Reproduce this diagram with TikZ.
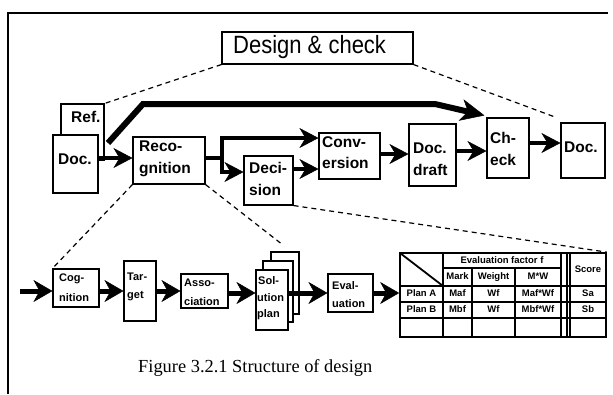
\documentclass[tikz,border=0pt]{standalone}
\usepackage{fontspec}
\setmainfont{Liberation Sans}
\newfontfamily\capfont{Liberation Serif}
\usetikzlibrary{arrows.meta,fit}
\begin{document}
\begin{tikzpicture}[x=1pt,y=-1pt,
  box/.style={draw,line width=1.1pt,fill=white,inner sep=0pt},
  lbl/.style={inner sep=0pt,anchor=base west,font=\fontsize{15.5}{16}\selectfont\bfseries},
  sml/.style={inner sep=0pt,anchor=base west,font=\fontsize{11}{11}\selectfont\bfseries},
  cell/.style={inner sep=0pt,text height=7pt,text depth=2pt,font=\fontsize{9.5}{9.5}\selectfont\bfseries},
  dashline/.style={line width=1.2pt,dash pattern=on 5pt off 4pt},
  flow/.style={line width=4.5pt,-{Stealth[length=19pt,width=20pt,inset=6pt,line width=0.5pt]}},
  lowflow/.style={line width=5pt,-{Stealth[length=19pt,width=22pt,inset=6pt,line width=0.5pt]}},
  bigflow/.style={line width=6pt,line join=miter,-{Stealth[length=24pt,width=22pt,inset=7pt,line width=0.5pt]}},
  rule/.style={line width=1.1pt},
]
\useasboundingbox (0,0) rectangle (613,394);

% outer frame
\draw[line width=1.2pt] (8,394) -- (8,13) -- (608,13);

% heights of the horizontal flows
\coordinate (L138) at (0,138);
\coordinate (L143) at (0,143);
\coordinate (L151) at (0,151);
\coordinate (L154) at (0,154);
\coordinate (L158) at (0,158);
\coordinate (L169) at (0,169);
\coordinate (L172) at (0,172);
\coordinate (L291) at (0,291);
\coordinate (L293) at (0,293);

% top process
\node[box,fit={(222,32)(413,64)}] (design) {};
\node[inner sep=0pt,anchor=base west,xscale=0.88,font=\fontsize{25}{25}\selectfont] (designtxt) at (233,53) {Design \& check};

\node[box,fit={(61,104)(104,160)}] (ref) {};
\node[lbl] (reftxt) at (71,122) {Ref.};
\node[box,fit={(53,135)(98,193)}] (doc) {};
\node[lbl] (doctxt) at (58,164) {Doc.};

\node[box,fit={(133,137)(205,184)}] (rec) {};
\node[lbl] (rec1) at (139,151) {Reco-};
\node[lbl] (rec2) at (139,173) {gnition};

\node[box,fit={(244,156)(293,205)}] (dec) {};
\node[lbl] (dec1) at (249,173) {Deci-};
\node[lbl] (dec2) at (249,195) {sion};

\node[box,fit={(319,133)(380,179)}] (conv) {};
\node[lbl] (conv1) at (322,147) {Conv-};
\node[lbl] (conv2) at (322,168) {ersion};

\node[box,fit={(409,124)(456,186)}] (draft) {};
\node[lbl] (draft1) at (413,153) {Doc.};
\node[lbl] (draft2) at (413,175) {draft};

\node[box,fit={(487,118)(529,178)}] (ck) {};
\node[lbl] (ck1) at (490,143) {Ch-};
\node[lbl] (ck2) at (490,165) {eck};

\node[box,fit={(561,123)(605,178)}] (out) {};
\node[lbl] (outtxt) at (564,152) {Doc.};

% flows of the top process
\coordinate (bypass) at (108,143);
\draw[bigflow] (bypass) -- (143,104) -- (435,104) -- ([xshift=-2pt,yshift=2pt]ck.north west);
\draw[flow] (doc.east |- L158) -- (rec.west |- L158);
\draw[line width=4.5pt] (rec.east |- L158) -- (222,158);
\draw[flow] (222,160) -- (222,138) -- (conv.west |- L138);
\draw[flow] (222,156) |- (dec.west |- L172);
\draw[flow] (dec.east |- L169) -- (conv.west |- L169);
\draw[flow] (conv.east |- L154) -- (draft.west |- L154);
\draw[flow] (draft.east |- L151) -- (ck.west |- L151);
\draw[flow] (ck.east |- L143) -- (out.west |- L143);

% dashed links to the detail rows
\coordinate (outtip) at (555,117);
\draw[dashline] (design.south west) -- (ref.north east);
\draw[dashline] (design.south east) -- (outtip);

% lower process: recognition detail
\node[box,fit={(53,269)(99,307)}] (cog) {};
\node[sml] (cog1) at (59,281) {Cog-};
\node[sml] (cog2) at (59,301) {nition};

\node[box,fit={(124,261)(156,321)}] (tar) {};
\node[sml] (tar1) at (127,280) {Tar-};
\node[sml] (tar2) at (127,298) {get};

\node[box,fit={(181,274)(228,308)}] (asso) {};
\node[sml] (asso1) at (184,286) {Asso-};
\node[sml] (asso2) at (184,305) {ciation};

\node[box,fit={(271,252)(299,314)}] (sol3) {};
\node[box,fit={(263,261)(293,322)}] (sol2) {};
\node[box,fit={(256,270)(288,330)}] (sol) {};
\node[sml] (sol1) at (258,284) {Sol-};
\node[sml] (solb) at (257,301) {ution};
\node[sml] (solc) at (257,317) {plan};

\node[box,fit={(328,274)(373,312)}] (eval) {};
\node[sml] (eval1) at (332,289) {Eval-};
\node[sml] (eval2) at (332,307) {uation};

% evaluation table
\node[fit={(400,253)(606,337)},inner sep=0pt,draw,line width=1.7pt] (tbl) {};
\draw[rule] (443,268) -- (561,268);
\draw[rule] (400,286) -- (606,286);
\draw[rule] (400,302) -- (606,302);
\draw[rule] (400,318) -- (606,318);
\draw[rule] (443,253) -- (443,337);
\draw[rule] (472,268) -- (472,337);
\draw[rule] (515,268) -- (515,337);
\draw[line width=1.6pt] (561,253) -- (561,337);
\draw[rule] (567,253) -- (567,337);
\draw[rule] (570,253) -- (570,337);
\draw[line width=1.8pt] (400,253) -- (443,286);
\node[cell] (hEval) at (502,260.5) {Evaluation factor f};
\node[cell] (hMark) at (457.5,277) {Mark};
\node[cell] (hWeight) at (493.5,277) {Weight};
\node[cell] (hMW) at (538,277) {M*W};
\node[cell] (hScore) at (588,269.5) {Score};
\node[cell] (aPlan) at (421.5,294) {Plan A};
\node[cell] (aM) at (457.5,294) {Maf};
\node[cell] (aW) at (493.5,294) {Wf};
\node[cell] (aMW) at (538,294) {Maf*Wf};
\node[cell] (aS) at (588,294) {Sa};
\node[cell] (bPlan) at (421.5,310) {Plan B};
\node[cell] (bM) at (457.5,310) {Mbf};
\node[cell] (bW) at (493.5,310) {Wf};
\node[cell] (bMW) at (538,310) {Mbf*Wf};
\node[cell] (bS) at (588,310) {Sb};

% flows of the lower process
\coordinate (in) at (20,291);
\draw[lowflow] (in) -- (cog.west |- L291);
\draw[lowflow] (cog.east |- L291) -- (tar.west |- L291);
\draw[lowflow] (tar.east |- L291) -- (asso.west |- L291);
\draw[lowflow] (asso.east |- L293) -- (sol.west |- L293);
\draw[lowflow] (sol.east |- L293) -- (eval.west |- L293);
\draw[lowflow] (eval.east |- L293) -- (tbl.west |- L293);

% dashed links from the recognition and decision steps
\coordinate (soltip) at (283,245);
\draw[dashline] (rec.south west) -- (cog.north west);
\draw[dashline] (rec.south east) -- (soltip);
\draw[dashline] (dec.south east) -- (tbl.north east);

% caption
\node[inner sep=0pt,anchor=base west,font=\capfont\fontsize{18.4}{19}\selectfont] (caption) at (138,372) {Figure 3.2.1 Structure of design};
\end{tikzpicture}
\end{document}
